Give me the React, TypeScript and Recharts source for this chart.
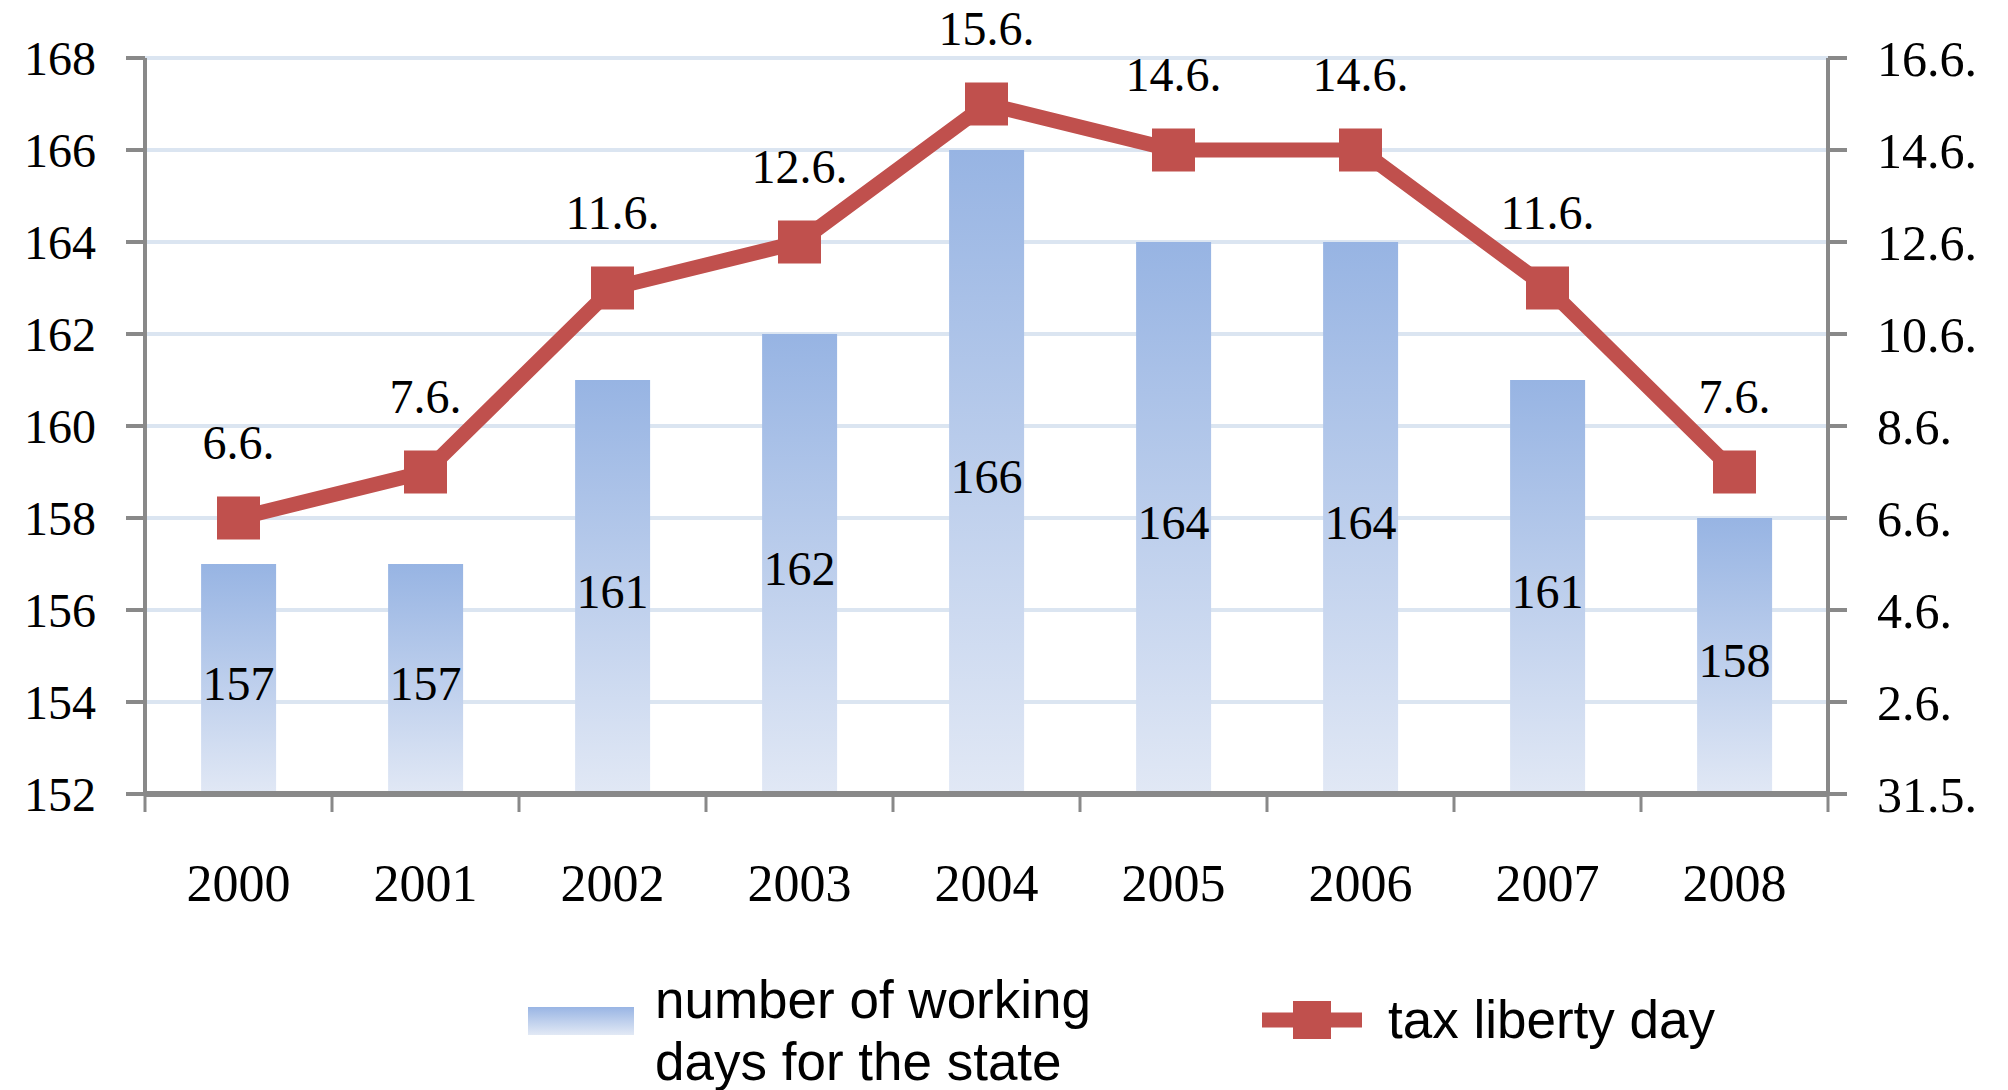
import React from 'react';
import {
  ComposedChart,
  Bar,
  Line,
  XAxis,
  YAxis,
  CartesianGrid,
  LabelList,
  Legend,
} from 'recharts';

const YEARS = ['2000', '2001', '2002', '2003', '2004', '2005', '2006', '2007', '2008'];
const WORKING_DAYS = [157, 157, 161, 162, 166, 164, 164, 161, 158];
// tax liberty day expressed as day of year (31.5. = 152)
const LIBERTY_DAY = [158, 159, 163, 164, 167, 166, 166, 163, 159];
const LIBERTY_LABELS = ['6.6.', '7.6.', '11.6.', '12.6.', '15.6.', '14.6.', '14.6.', '11.6.', '7.6.'];
const LEFT_TICKS = [152, 154, 156, 158, 160, 162, 164, 166, 168];
const RIGHT_TICK_LABELS = ['31.5.', '2.6.', '4.6.', '6.6.', '8.6.', '10.6.', '12.6.', '14.6.', '16.6.'];
const BAR_NAME_LINES = ['number of working', 'days for the state'];
const LINE_NAME = 'tax liberty day';

const data = YEARS.map((year, i) => ({
  year,
  working: WORKING_DAYS[i],
  liberty: LIBERTY_DAY[i],
  libertyLabel: LIBERTY_LABELS[i],
}));

const W = 2008;
const H = 1090;
const LEFT_W = 145;
const RIGHT_W = 180;
const TOP = 58;
const PLOT_BOTTOM = 794;
const XAXIS_H = 140;
const BAND = (W - LEFT_W - RIGHT_W) / YEARS.length;

const AXIS = '#898989';
const GRID = '#dbe5f1';
const RED = '#c0504d';
const SERIF = '"Liberation Serif", "DejaVu Serif", serif';
const SANS = '"Liberation Sans", Arial, sans-serif';

const XTick = (props: any) => {
  const { x, y, payload, index } = props;
  const last = index === YEARS.length - 1;
  return (
    <g>
      <line x1={x - BAND / 2} x2={x - BAND / 2} y1={y} y2={y + 18} stroke={AXIS} strokeWidth={3} />
      {last && <line x1={x + BAND / 2} x2={x + BAND / 2} y1={y} y2={y + 18} stroke={AXIS} strokeWidth={3} />}
      <text x={x} y={y + 107} textAnchor="middle" fontFamily={SERIF} fontSize={52} fill="#000">
        {payload.value}
      </text>
    </g>
  );
};

const SquareDot = (props: any) => {
  const { cx, cy, index } = props;
  if (cx == null || cy == null) return <g key={`d${index}`} />;
  return <rect key={`d${index}`} x={cx - 21.5} y={cy - 21.5} width={43} height={43} fill={RED} />;
};

const renderLegend = () => {
  const oy = 960;
  return (
    <svg width={W} height={130} style={{ display: 'block' }}>
      <defs>
        <linearGradient id="legGrad" x1="0" y1="0" x2="0" y2="1">
          <stop offset="0%" stopColor="#99b5e4" />
          <stop offset="100%" stopColor="#e2e9f5" />
        </linearGradient>
      </defs>
      <rect x={528} y={1007 - oy} width={106} height={28} fill="url(#legGrad)" />
      <text x={655} y={1018 - oy} fontFamily={SANS} fontSize={53} fill="#000">
        {BAR_NAME_LINES[0]}
      </text>
      <text x={655} y={1080 - oy} fontFamily={SANS} fontSize={53} fill="#000">
        {BAR_NAME_LINES[1]}
      </text>
      <line x1={1262} x2={1362} y1={1020 - oy} y2={1020 - oy} stroke={RED} strokeWidth={15} />
      <rect x={1312 - 19} y={1020 - 19 - oy} width={38} height={38} fill={RED} />
      <text x={1388} y={1038 - oy} fontFamily={SANS} fontSize={53} fill="#000">
        {LINE_NAME}
      </text>
    </svg>
  );
};

export default function App() {
  return (
    <div style={{ position: 'absolute', left: 0, top: 0, width: W, height: H, background: '#fff' }}>
      <ComposedChart
        width={W}
        height={H}
        data={data}
        margin={{ top: TOP, right: 0, left: 0, bottom: H - PLOT_BOTTOM - XAXIS_H }}
        barCategoryGap="30%"
      >
        <defs>
          <linearGradient id="barGrad" x1="0" y1="0" x2="0" y2="1">
            <stop offset="0%" stopColor="#97b4e3" />
            <stop offset="100%" stopColor="#e1e8f5" />
          </linearGradient>
        </defs>
        <CartesianGrid yAxisId="left" vertical={false} stroke={GRID} strokeWidth={4} />
        <XAxis
          dataKey="year"
          height={XAXIS_H}
          tickSize={0}
          tickMargin={0}
          tickLine={false}
          axisLine={{ stroke: AXIS, strokeWidth: 6 }}
          tick={<XTick />}
          interval={0}
        />
        <YAxis
          yAxisId="left"
          width={LEFT_W}
          domain={[152, 168]}
          ticks={LEFT_TICKS}
          interval={0}
          tickSize={19}
          tickMargin={30}
          axisLine={{ stroke: AXIS, strokeWidth: 4 }}
          tickLine={{ stroke: AXIS, strokeWidth: 4 }}
          tick={{ fill: '#000', fontSize: 48, fontFamily: SERIF }}
          allowDataOverflow
        />
        <YAxis
          yAxisId="right"
          orientation="right"
          width={RIGHT_W}
          domain={[152, 168]}
          ticks={LEFT_TICKS}
          interval={0}
          tickSize={19}
          tickMargin={30}
          axisLine={{ stroke: AXIS, strokeWidth: 4 }}
          tickLine={{ stroke: AXIS, strokeWidth: 4 }}
          tick={{ fill: '#000', fontSize: 50, fontFamily: SERIF, textAnchor: 'start' }}
          tickFormatter={(_v: any, i: number) => RIGHT_TICK_LABELS[i]}
          allowDataOverflow
        />
        <Bar
          yAxisId="left"
          dataKey="working"
          name={BAR_NAME_LINES.join(' ')}
          fill="url(#barGrad)"
          isAnimationActive={false}
        >
          <LabelList
            dataKey="working"
            position="center"
            dy={4}
            fill="#000"
            fontSize={48}
            fontFamily={SERIF}
          />
        </Bar>
        <Line
          yAxisId="right"
          dataKey="liberty"
          name={LINE_NAME}
          stroke={RED}
          strokeWidth={15}
          dot={SquareDot}
          activeDot={false}
          isAnimationActive={false}
        >
          <LabelList
            dataKey="libertyLabel"
            position="top"
            offset={59}
            fill="#000"
            fontSize={48}
            fontFamily={SERIF}
          />
        </Line>
        <Legend
          layout="vertical"
          align="center"
          verticalAlign="middle"
          content={renderLegend}
          wrapperStyle={{ top: 960, left: 0, width: W, height: 130 }}
        />
      </ComposedChart>
    </div>
  );
}
